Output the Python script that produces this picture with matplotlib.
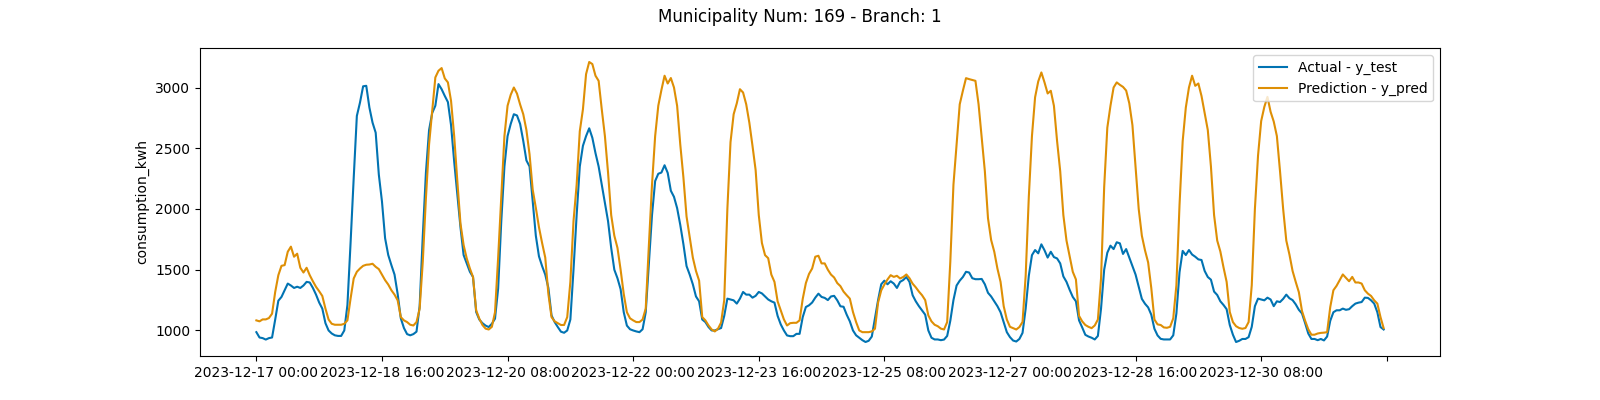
import pandas as pd
import numpy as np
import matplotlib
matplotlib.use("Agg")
import matplotlib.pyplot as plt

# Hourly timestamps used as categorical x values
dates = pd.date_range("2023-12-17 00:00", periods=360, freq="h").strftime("%Y-%m-%d %H:%M").tolist()

# Actual consumption (y_test), one row per day
y_test = [
    986, 942, 937, 925, 937, 942, 1090, 1245, 1276, 1330, 1386, 1370, 1350, 1360, 1350, 1370, 1400, 1395, 1350, 1295, 1230, 1180, 1060, 1000,
    975, 960, 955, 955, 1000, 1210, 1720, 2255, 2766, 2876, 3010, 3014, 2835, 2711, 2628, 2283, 2062, 1759, 1621, 1538, 1460, 1300, 1100, 1020,
    970, 960, 970, 990, 1200, 1780, 2300, 2650, 2790, 2850, 3028, 2986, 2931, 2880, 2690, 2390, 2120, 1850, 1621, 1552, 1483, 1440, 1152, 1090,
    1060, 1040, 1028, 1055, 1097, 1345, 1900, 2350, 2600, 2700, 2780, 2770, 2700, 2560, 2400, 2350, 2062, 1780, 1610, 1530, 1460, 1350, 1124, 1069,
    1028, 990, 981, 1000, 1090, 1500, 1950, 2350, 2520, 2600, 2664, 2586, 2460, 2350, 2200, 2050, 1900, 1680, 1500, 1430, 1340, 1150, 1040, 1010,
    1000, 992, 986, 1010, 1150, 1550, 1950, 2230, 2290, 2300, 2360, 2297, 2150, 2100, 2007, 1869, 1710, 1530, 1460, 1380, 1280, 1240, 1090, 1069,
    1028, 1000, 1000, 1010, 1020, 1120, 1262, 1255, 1248, 1221, 1262, 1317, 1295, 1295, 1270, 1285, 1317, 1305, 1280, 1255, 1240, 1229, 1120, 1050,
    1000, 959, 953, 953, 972, 972, 1110, 1193, 1207, 1230, 1270, 1303, 1276, 1268, 1250, 1280, 1285, 1248, 1199, 1195, 1130, 1075, 1000, 960,
    940, 920, 905, 915, 950, 1100, 1250, 1380, 1410, 1380, 1405, 1386, 1350, 1400, 1415, 1440, 1400, 1290, 1240, 1200, 1165, 1130, 1000, 940,
    926, 926, 920, 925, 955, 1080, 1250, 1370, 1410, 1440, 1483, 1477, 1430, 1422, 1422, 1424, 1380, 1310, 1280, 1240, 1200, 1150, 1069, 986,
    945, 917, 909, 930, 980, 1180, 1450, 1620, 1662, 1635, 1709, 1660, 1600, 1648, 1604, 1593, 1552, 1445, 1400, 1335, 1276, 1240, 1083, 1025,
    964, 950, 940, 926, 955, 1180, 1500, 1640, 1698, 1670, 1726, 1717, 1630, 1670, 1600, 1530, 1460, 1360, 1260, 1220, 1190, 1130, 1014, 959,
    931, 926, 926, 926, 960, 1140, 1480, 1655, 1621, 1662, 1625, 1607, 1585, 1580, 1490, 1440, 1418, 1320, 1292, 1240, 1210, 1175, 1045, 965,
    905, 915, 930, 930, 945, 1030, 1200, 1262, 1255, 1248, 1270, 1255, 1200, 1240, 1234, 1260, 1295, 1265, 1250, 1215, 1170, 1140, 1060, 975,
    930, 930, 920, 930, 918, 950, 1080, 1150, 1166, 1166, 1180, 1170, 1175, 1200, 1221, 1229, 1234, 1270, 1268, 1248, 1221, 1150, 1028, 1008,
]

# Model prediction (y_pred), one row per day
y_pred = [
    1083, 1075, 1091, 1091, 1102, 1138, 1317, 1455, 1532, 1538, 1648, 1690, 1607, 1632, 1516, 1477, 1516, 1455, 1405, 1359, 1323, 1284, 1180, 1090,
    1055, 1047, 1047, 1047, 1055, 1083, 1262, 1428, 1483, 1510, 1532, 1541, 1543, 1549, 1524, 1505, 1460, 1414, 1378, 1331, 1295, 1248, 1110, 1083,
    1069, 1047, 1041, 1069, 1179, 1566, 2090, 2531, 2807, 3083, 3138, 3160, 3075, 3042, 2890, 2600, 2230, 1880, 1703, 1593, 1510, 1440, 1166, 1097,
    1045, 1015, 1008, 1030, 1150, 1600, 2100, 2600, 2850, 2940, 3000, 2950, 2860, 2780, 2650, 2450, 2160, 2010, 1850, 1720, 1600, 1300, 1110, 1075,
    1060, 1045, 1045, 1110, 1400, 1900, 2200, 2640, 2820, 3110, 3210, 3193, 3097, 3055, 2820, 2600, 2300, 1950, 1780, 1680, 1500, 1300, 1150, 1100,
    1083, 1069, 1069, 1090, 1180, 1700, 2200, 2600, 2850, 2980, 3097, 3033, 3078, 3000, 2849, 2531, 2260, 1938, 1770, 1600, 1490, 1410, 1110, 1083,
    1041, 1008, 992, 1014, 1065, 1250, 2000, 2550, 2780, 2870, 2986, 2959, 2862, 2710, 2520, 2320, 1950, 1720, 1620, 1595, 1460, 1400, 1240, 1166,
    1091, 1041, 1060, 1063, 1063, 1083, 1260, 1390, 1465, 1510, 1607, 1615, 1552, 1552, 1500, 1460, 1436, 1390, 1365, 1320, 1290, 1262, 1152, 1069,
    1000, 986, 986, 986, 992, 1014, 1230, 1330, 1378, 1420, 1455, 1441, 1450, 1428, 1440, 1461, 1430, 1385, 1355, 1320, 1290, 1250, 1124, 1075,
    1047, 1035, 1015, 1008, 1069, 1566, 2200, 2531, 2862, 2973, 3077, 3069, 3062, 3055, 2862, 2586, 2311, 1924, 1745, 1648, 1510, 1400, 1200, 1090,
    1030, 1019, 1008, 1028, 1070, 1450, 2100, 2600, 2920, 3050, 3124, 3042, 2951, 2973, 2849, 2560, 2311, 1950, 1740, 1610, 1483, 1420, 1120, 1075,
    1045, 1030, 1019, 1041, 1090, 1428, 2180, 2669, 2849, 3000, 3042, 3022, 3005, 2975, 2870, 2690, 2340, 2000, 1780, 1660, 1560, 1350, 1090, 1050,
    1045, 1025, 1022, 1030, 1100, 1372, 2035, 2559, 2835, 3000, 3097, 3014, 3033, 2930, 2790, 2650, 2350, 1950, 1740, 1650, 1520, 1400, 1152, 1069,
    1035, 1020, 1014, 1020, 1069, 1372, 2000, 2440, 2724, 2840, 2923, 2800, 2720, 2600, 2311, 2000, 1740, 1625, 1490, 1400, 1315, 1160, 1080, 1010,
    965, 965, 975, 980, 982, 986, 1193, 1331, 1367, 1414, 1461, 1433, 1405, 1441, 1395, 1395, 1386, 1331, 1303, 1284, 1248, 1221, 1110, 1019,
]

municipality = 169
branch = 1

fig, ax = plt.subplots(figsize=(16, 4), dpi=100)
ax.plot(dates, y_test, color="#0173b2", label="Actual - y_test")
ax.plot(dates, y_pred, color="#de8f05", label="Prediction - y_pred")

# every 40 hours a tick (last one falls past the data, so no label)
ax.set_xticks(range(0, len(dates) + 1, 40))
ax.set_ylabel("consumption_kwh")
ax.legend(loc="upper right")
fig.suptitle("Municipality Num: " + str(municipality) + " - Branch: " + str(branch))

plt.savefig("out.png")
plt.close()
